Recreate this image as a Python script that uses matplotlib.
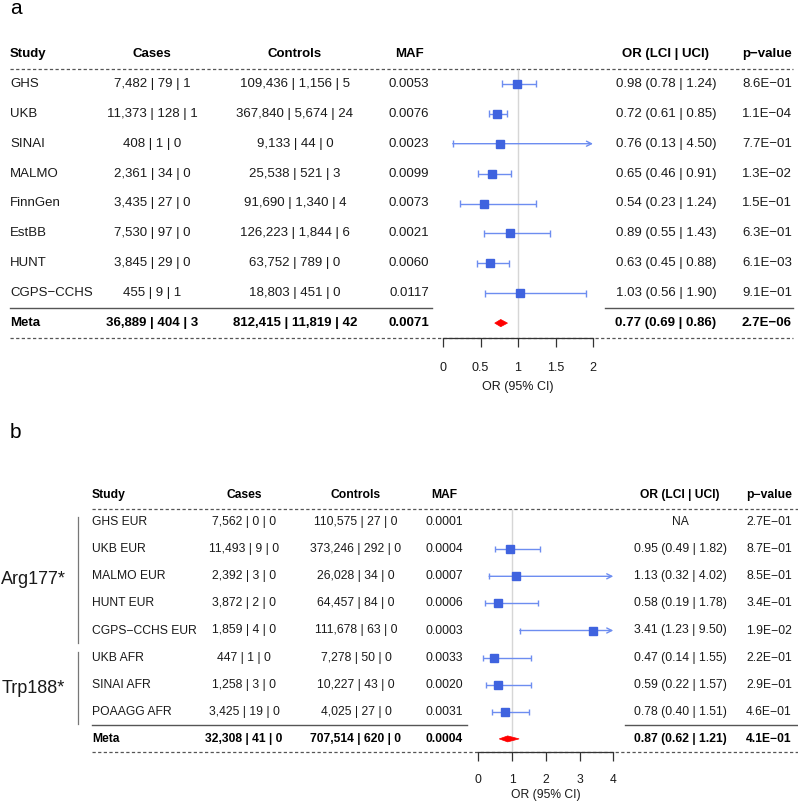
import matplotlib.pyplot as plt
from matplotlib.patches import Polygon

plt.rcParams['font.family'] = ['Liberation Sans', 'DejaVu Sans']

W, H = 798, 802

# ---- panel a: data ----
a_study = ["GHS", "UKB", "SINAI", "MALMO", "FinnGen", "EstBB", "HUNT", "CGPS\u2212CCHS"]
a_cases = [(7482, 79, 1), (11373, 128, 1), (408, 1, 0), (2361, 34, 0),
           (3435, 27, 0), (7530, 97, 0), (3845, 29, 0), (455, 9, 1)]
a_controls = [(109436, 1156, 5), (367840, 5674, 24), (9133, 44, 0), (25538, 521, 3),
              (91690, 1340, 4), (126223, 1844, 6), (63752, 789, 0), (18803, 451, 0)]
a_maf = [0.0053, 0.0076, 0.0023, 0.0099, 0.0073, 0.0021, 0.0060, 0.0117]
a_or = [0.98, 0.72, 0.76, 0.65, 0.54, 0.89, 0.63, 1.03]
a_lci = [0.78, 0.61, 0.13, 0.46, 0.23, 0.55, 0.45, 0.56]
a_uci = [1.24, 0.85, 4.50, 0.91, 1.24, 1.43, 0.88, 1.90]
a_p = [8.6e-01, 1.1e-04, 7.7e-01, 1.3e-02, 1.5e-01, 6.3e-01, 6.1e-03, 9.1e-01]
a_meta_cases = (36889, 404, 3)
a_meta_controls = (812415, 11819, 42)
a_meta_maf = 0.0071
a_meta_or = (0.77, 0.69, 0.86)
a_meta_p = 2.7e-06
a_ticks = [0, 0.5, 1, 1.5, 2]

# ---- panel b: data ----
b_study = ["GHS EUR", "UKB EUR", "MALMO EUR", "HUNT EUR", "CGPS\u2212CCHS EUR",
           "UKB AFR", "SINAI AFR", "POAAGG AFR"]
b_cases = [(7562, 0, 0), (11493, 9, 0), (2392, 3, 0), (3872, 2, 0),
           (1859, 4, 0), (447, 1, 0), (1258, 3, 0), (3425, 19, 0)]
b_controls = [(110575, 27, 0), (373246, 292, 0), (26028, 34, 0), (64457, 84, 0),
              (111678, 63, 0), (7278, 50, 0), (10227, 43, 0), (4025, 27, 0)]
b_maf = [0.0001, 0.0004, 0.0007, 0.0006, 0.0003, 0.0033, 0.0020, 0.0031]
b_or = [None, 0.95, 1.13, 0.58, 3.41, 0.47, 0.59, 0.78]
b_lci = [None, 0.49, 0.32, 0.19, 1.23, 0.14, 0.22, 0.40]
b_uci = [None, 1.82, 4.02, 1.78, 9.50, 1.55, 1.57, 1.51]
b_p = [2.7e-01, 8.7e-01, 8.5e-01, 3.4e-01, 1.9e-02, 2.2e-01, 2.9e-01, 4.6e-01]
b_meta_cases = (32308, 41, 0)
b_meta_controls = (707514, 620, 0)
b_meta_maf = 0.0004
b_meta_or = (0.87, 0.62, 1.21)
b_meta_p = 4.1e-01
b_groups = ["Arg177*", "Trp188*"]
b_group_rows = [(1, 5), (6, 8)]
b_ticks = [0, 1, 2, 3, 4]

TXT = '#1a1a1a'
LINE = '#555555'
SQ = '#3f63df'
CI = '#6d8df0'


def fmt_counts(c):
    return " | ".join(f"{v:,}" for v in c)


def fmt_p(p):
    return f"{p:.1E}".replace("-", "\u2212")


def fmt_or(o, l, u):
    if o is None:
        return "NA"
    return f"{o:.2f} ({l:.2f} | {u:.2f})"


def draw_panel(fig, lay, study, cases, controls, maf, ors, lcis, ucis, ps,
               meta_cases, meta_controls, meta_maf, meta_or, meta_p, ticks):
    y0, dy = lay['y0'], lay['dy']
    fs = lay['fs']
    n = len(study)
    meta_row = n + 1

    # table axes: x in pixels, y in rows
    r_top, r_bot = -1.0, 11.5
    ax = fig.add_axes([0, 1 - (y0 + r_bot * dy) / H, 1, (r_bot - r_top) * dy / H])
    ax.set_xlim(0, W)
    ax.set_ylim(r_bot, r_top)
    ax.axis('off')

    cx = lay['cols']
    heads = ["Cases", "Controls", "MAF", "OR (LCI | UCI)", "p\u2212value"]
    ax.text(lay['study_x'], 0, "Study", ha='left', va='center', fontsize=fs, fontweight='bold')
    for key, h in zip(['cases', 'controls', 'maf', 'or', 'p'], heads):
        ax.text(cx[key], 0, h, ha='center', va='center', fontsize=fs, fontweight='bold')

    for i in range(n):
        r = i + 1
        ax.text(lay['study_x'], r, study[i], ha='left', va='center', fontsize=fs, color=TXT)
        ax.text(cx['cases'], r, fmt_counts(cases[i]), ha='center', va='center', fontsize=fs, color=TXT)
        ax.text(cx['controls'], r, fmt_counts(controls[i]), ha='center', va='center', fontsize=fs, color=TXT)
        ax.text(cx['maf'], r, f"{maf[i]:.4f}", ha='center', va='center', fontsize=fs, color=TXT)
        ax.text(cx['or'], r, fmt_or(ors[i], lcis[i], ucis[i]), ha='center', va='center', fontsize=fs, color=TXT)
        ax.text(cx['p'], r, fmt_p(ps[i]), ha='center', va='center', fontsize=fs, color=TXT)

    ax.text(lay['study_x'], meta_row, "Meta", ha='left', va='center', fontsize=fs, fontweight='bold')
    meta_txt = [fmt_counts(meta_cases), fmt_counts(meta_controls), f"{meta_maf:.4f}",
                fmt_or(*meta_or), fmt_p(meta_p)]
    for key, t in zip(['cases', 'controls', 'maf', 'or', 'p'], meta_txt):
        ax.text(cx[key], meta_row, t, ha='center', va='center', fontsize=fs, fontweight='bold')

    # rules
    x1, x2 = lay['dash_x']
    for rr in (0.5, meta_row + 0.5):
        ax.plot([x1, x2], [rr, rr], color=LINE, lw=0.9, linestyle=(0, (2.6, 1.9)))
    for s1, s2 in lay['solid']:
        ax.plot([s1, s2], [n + 0.5, n + 0.5], color=LINE, lw=1.0)

    # forest axes: x in OR units
    xmax = ticks[-1]
    ppu = lay['ppu']
    axf = fig.add_axes([lay['or0'] / W, 1 - (y0 + (meta_row + 0.5) * dy) / H,
                        xmax * ppu / W, (meta_row + 1) * dy / H])
    axf.set_xlim(0, xmax)
    axf.set_ylim(meta_row + 0.5, -0.5)
    axf.patch.set_visible(False)
    for side in ('left', 'top', 'right'):
        axf.spines[side].set_visible(False)
    axf.spines['bottom'].set_color('#333333')
    axf.spines['bottom'].set_linewidth(0.9)
    axf.set_yticks([])
    axf.set_xticks(ticks)
    axf.set_xticklabels([f"{t:g}" for t in ticks])
    axf.tick_params(axis='x', direction='out', length=6.5, width=0.9, color='#333333',
                    labelsize=lay['tfs'], labelcolor=TXT, pad=lay['tpad'])
    axf.set_xlabel("OR (95% CI)", fontsize=lay['tfs'], color=TXT, labelpad=lay['lpad'])

    axf.vlines(1, 0.5, meta_row + 0.5, color='#d6d6d6', lw=1.0, zorder=1)

    cap = lay['cap'] / dy
    for i in range(n):
        r = i + 1
        if ors[i] is None:
            continue
        lo, hi = lcis[i], ucis[i]
        if hi > xmax:
            axf.annotate('', xy=(xmax, r), xytext=(lo, r),
                         arrowprops=dict(arrowstyle='->', color=CI, lw=1.0,
                                         shrinkA=0, shrinkB=0, mutation_scale=9),
                         annotation_clip=False)
            axf.vlines(lo, r - cap, r + cap, color=CI, lw=1.0, clip_on=False)
        else:
            axf.hlines(r, lo, hi, color=CI, lw=1.0, clip_on=False)
            axf.vlines([lo, hi], r - cap, r + cap, color=CI, lw=1.0, clip_on=False)
        axf.plot(ors[i], r, marker='s', ms=lay['ms'], color=SQ, mec=SQ, clip_on=False, zorder=4)

    o, l, u = meta_or
    hh = lay['dia'] / dy
    axf.add_patch(Polygon([(l, meta_row), (o, meta_row - hh), (u, meta_row), (o, meta_row + hh)],
                          closed=True, facecolor='#ff0000', edgecolor='#ff0000', lw=0.5,
                          clip_on=False, zorder=4))
    return ax


fig = plt.figure(figsize=(W / 100, H / 100), dpi=100)

lay_a = dict(y0=54, dy=29.9, fs=9.5, study_x=10,
             cols=dict(cases=152, controls=295, maf=409, **{'or': 666}, p=767),
             dash_x=(10, 793), solid=[(10, 432), (605, 793)],
             or0=443, ppu=75, ms=5.8, cap=3.5, dia=3.6, tfs=9, tpad=11, lpad=4.5)
draw_panel(fig, lay_a, a_study, a_cases, a_controls, a_maf, a_or, a_lci, a_uci, a_p,
           a_meta_cases, a_meta_controls, a_meta_maf, a_meta_or, a_meta_p, a_ticks)

lay_b = dict(y0=495, dy=27.1, fs=8.7, study_x=92,
             cols=dict(cases=244, controls=356, maf=444, **{'or': 680}, p=769),
             dash_x=(92, 798), solid=[(92, 467), (625, 798)],
             or0=478.3, ppu=33.75, ms=5.2, cap=3.0, dia=3.0, tfs=8.7, tpad=9, lpad=2.5)
axb = draw_panel(fig, lay_b, b_study, b_cases, b_controls, b_maf, b_or, b_lci, b_uci, b_p,
                 b_meta_cases, b_meta_controls, b_meta_maf, b_meta_or, b_meta_p, b_ticks)

# group brackets in panel b
for name, (g1, g2) in zip(b_groups, b_group_rows):
    top, bot = g1 - 0.2, g2 + 0.45
    axb.plot([78, 78], [top, bot], color='#777777', lw=0.9)
    axb.text(33, (top + bot) / 2, name, ha='center', va='center', fontsize=13, color=TXT)

fig.text(10 / W, 1 - 14 / H, "a", ha='left', va='baseline', fontsize=15)
fig.text(10 / W, 1 - 438 / H, "b", ha='left', va='baseline', fontsize=15)

fig.savefig("out.png", dpi=100)
